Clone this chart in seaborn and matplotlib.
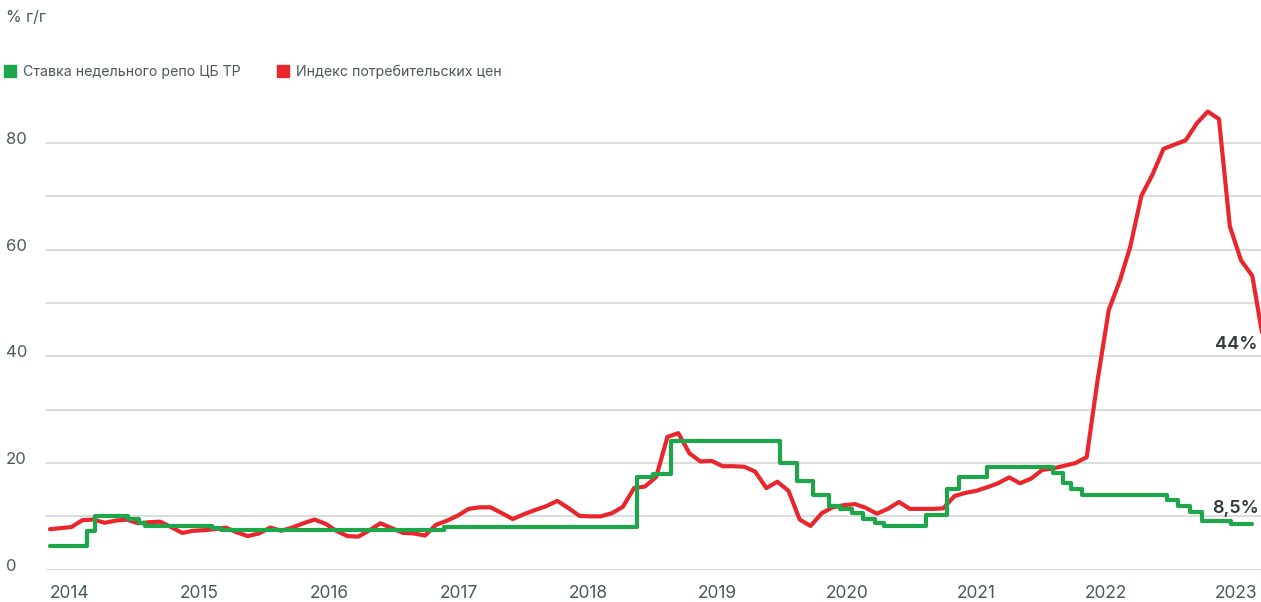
import numpy as np
import pandas as pd
import matplotlib
matplotlib.use("Agg")
import matplotlib.pyplot as plt
import matplotlib.transforms as mtransforms
from matplotlib.lines import Line2D
import seaborn as sns

# ---- data ----
cpi_start = "2014-01-01"
cpi_values = [
    7.6, 7.8, 8.0, 9.3, 9.4, 8.8, 9.2, 9.4, 8.7, 8.9, 9.0, 8.0,          # 2014
    6.9, 7.3, 7.4, 7.6, 7.9, 7.0, 6.3, 6.8, 7.9, 7.3, 7.9, 8.7,          # 2015
    9.4, 8.6, 7.3, 6.3, 6.2, 7.4, 8.7, 7.8, 6.9, 6.8, 6.4, 8.4,          # 2016
    9.2, 10.2, 11.4, 11.7, 11.7, 10.6, 9.5, 10.4, 11.2, 11.9, 12.9, 11.6,  # 2017
    10.1, 10.0, 10.0, 10.6, 11.8, 15.3, 15.6, 17.4, 24.9, 25.6, 21.8, 20.3,  # 2018
    20.4, 19.4, 19.4, 19.3, 18.4, 15.3, 16.5, 14.8, 9.4, 8.2, 10.6, 11.7,  # 2019
    12.1, 12.3, 11.6, 10.5, 11.4, 12.7, 11.4, 11.4, 11.4, 11.5, 13.8, 14.4,  # 2020
    14.8, 15.5, 16.2, 17.3, 16.2, 17.1, 18.7, 19.0, 19.5, 20.0, 21.1, 35.5,  # 2021
    48.7, 54.3, 60.5, 70.1, 74.0, 78.9, 79.7, 80.5, 83.7, 85.9, 84.5, 64.4,  # 2022
    58.0, 55.1, 44.0,                                                    # 2023
]

repo_dates = [
    "2014-01-01", "2014-04-12", "2014-05-06", "2014-08-03", "2014-09-04",
    "2014-09-20", "2015-03-24", "2015-04-19", "2016-12-23", "2018-06-08",
    "2018-07-24", "2018-09-10", "2019-07-09", "2019-08-25", "2019-10-07",
    "2019-11-21", "2019-12-21", "2020-01-22", "2020-02-23", "2020-03-27",
    "2020-04-20", "2020-08-14", "2020-10-11", "2020-11-14", "2021-01-29",
    "2021-08-01", "2021-08-28", "2021-09-20", "2021-10-19", "2022-06-11",
    "2022-07-12", "2022-08-13", "2022-09-14", "2022-12-03", "2023-01-30",
]
repo_values = [
    4.5, 7.3, 10.1, 9.5, 8.7, 8.25, 7.8, 7.4, 8.0, 17.3,
    17.9, 24.2, 20.0, 16.6, 14.0, 12.0, 11.3, 10.7, 9.6, 8.7,
    8.2, 10.3, 15.1, 17.3, 19.2, 18.2, 16.2, 15.1, 14.0, 13.0,
    12.0, 10.8, 9.2, 8.5, 8.5,
]

years = ["2014", "2015", "2016", "2017", "2018", "2019", "2020", "2021", "2022", "2023"]
y_labels = ["0", "20", "40", "60", "80"]

label_repo = "Ставка недельного репо ЦБ ТР"
label_cpi = "Индекс потребительских цен"
unit_text = "% г/г"
last_cpi_text = "44%"
last_repo_text = "8,5%"

GREEN = "#1da64a"
RED = "#e8262c"
GRID = "#cfd3d4"
TEXT = "#4d585b"
DARK = "#2f3a3d"

t0 = pd.Timestamp(cpi_start)
month_len = 365.25 / 12


def to_month(dates):
    return (pd.to_datetime(dates) - t0).days / month_len


cpi_df = pd.DataFrame({
    "m": to_month(pd.date_range(cpi_start, periods=len(cpi_values), freq="MS")),
    "v": cpi_values,
})
repo_df = pd.DataFrame({"m": to_month(repo_dates), "v": repo_values})

# ---- figure ----
sns.set_theme(style="white")
plt.rcParams["font.family"] = ["Inter", "DejaVu Sans"]

W, H = 1261, 602
fig = plt.figure(figsize=(W / 100, H / 100), dpi=100)
ax = fig.add_axes([46 / W, 32.3 / H, 1215 / W, 480 / H])

sns.lineplot(data=cpi_df, x="m", y="v", ax=ax, color=RED, lw=3, sort=False, zorder=3)
sns.lineplot(data=repo_df, x="m", y="v", ax=ax, color=GREEN, lw=3, sort=False,
             drawstyle="steps-post", zorder=4)

ax.set_xlim(-0.36, 109.8)
ax.set_ylim(0, 90)
ax.set_xlabel("")
ax.set_ylabel("")
for s in ax.spines.values():
    s.set_visible(False)

ax.set_yticks(np.arange(0, 90, 20))
ax.set_yticks(np.arange(10, 90, 20), minor=True)
ax.set_yticklabels(y_labels)
ax.grid(axis="y", which="both", color=GRID, lw=1.1)
ax.grid(axis="x", visible=False)
ax.tick_params(axis="y", which="both", length=0, pad=28.8, labelsize=12, labelcolor=TEXT)
for lbl in ax.get_yticklabels():
    lbl.set_horizontalalignment("left")
    lbl.set_transform(lbl.get_transform() +
                      mtransforms.ScaledTranslation(0, 0.05, fig.dpi_scale_trans))

ax.set_xticks(np.linspace(1.8, 107.5, len(years)))
ax.set_xticklabels(years)
ax.tick_params(axis="x", length=0, pad=11, labelsize=12.5, labelcolor=TEXT)

# end labels
ax.text(109.5, 42.2, last_cpi_text, ha="right", va="center", fontsize=13,
        fontweight="semibold", color=DARK)
ax.text(109.6, 11.5, last_repo_text, ha="right", va="center", fontsize=13,
        fontweight="semibold", color=DARK)

# header
fig.text(6 / W, 1 - 17 / H, unit_text, ha="left", va="center", fontsize=11.5, color=TEXT)
handles = [
    Line2D([], [], marker="s", ls="none", color=GREEN, markersize=9),
    Line2D([], [], marker="s", ls="none", color=RED, markersize=9),
]
fig.legend(handles, [label_repo, label_cpi], loc="center left",
           bbox_to_anchor=(-8 / W, 1 - 72 / H), ncol=2, frameon=False,
           handlelength=0.8, handletextpad=0.5, columnspacing=2.6,
           fontsize=10.2, labelcolor=TEXT)

fig.savefig("out.png", dpi=100)
